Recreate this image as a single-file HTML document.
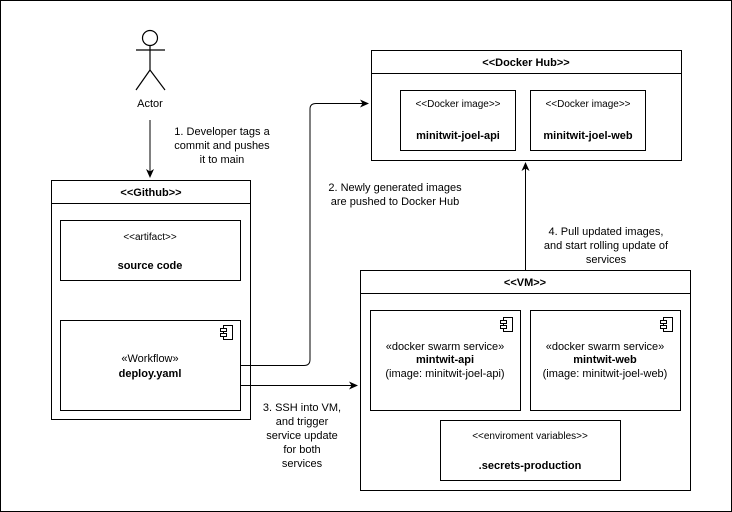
<!DOCTYPE html>
<html><head><meta charset="utf-8"><style>
html,body{margin:0;padding:0;background:#fff}
svg{display:block}
text{font-family:"Liberation Sans",Arial,sans-serif;font-size:11px;fill:#000}
.b{font-weight:bold}
.s{font-size:10px}
</style></head><body>
<svg width="732" height="512" viewBox="0 0 732 512">
<defs><marker id="a" markerWidth="10" markerHeight="10" refX="8" refY="4" orient="auto" markerUnits="userSpaceOnUse"><path d="M0,0 L9,4 L0,8 L2.5,4 Z" fill="#000"/></marker></defs>
<rect x="0.5" y="0.5" width="731" height="511" fill="none" stroke="#000"/>
<g stroke="#000" fill="none" stroke-width="1.2">
<circle cx="150" cy="38" r="7.5"/>
<line x1="150" y1="45.5" x2="150" y2="70"/>
<line x1="136" y1="50" x2="165" y2="50"/>
<line x1="150" y1="70" x2="136" y2="90"/>
<line x1="150" y1="70" x2="165" y2="90"/>
</g>
<text x="150" y="107" text-anchor="middle">Actor</text>
<g stroke="#000" fill="none" stroke-width="1">
<line x1="150" y1="120" x2="150" y2="177" marker-end="url(#a)"/>
<rect x="51.5" y="180.5" width="199" height="239"/>
<line x1="51.5" y1="203.5" x2="250.5" y2="203.5"/>
<rect x="60.5" y="220.5" width="180" height="60"/>
<rect x="60.5" y="320.5" width="180" height="90"/>
<rect x="371.5" y="50.5" width="310" height="110"/>
<line x1="371.5" y1="73.5" x2="681.5" y2="73.5"/>
<rect x="400.5" y="90.5" width="115" height="60"/>
<rect x="530.5" y="90.5" width="115" height="60"/>
<rect x="360.5" y="270.5" width="330" height="220"/>
<line x1="360.5" y1="293.5" x2="690.5" y2="293.5"/>
<rect x="370.5" y="310.5" width="150" height="100"/>
<rect x="530.5" y="310.5" width="150" height="100"/>
<rect x="440.5" y="420.5" width="180" height="60"/>
<path d="M240,365.5 H304 Q310,365.5 310,359.5 V109 Q310,103.5 316,103.5 H368" marker-end="url(#a)"/>
<line x1="240" y1="385.5" x2="357" y2="385.5" marker-end="url(#a)"/>
<line x1="525.5" y1="270" x2="525.5" y2="163" marker-end="url(#a)"/>
</g>
<g stroke="#000" fill="#fff" stroke-width="1">
<rect x="223.5" y="325.5" width="9" height="14"/><rect x="220.5" y="328.5" width="6" height="3"/><rect x="220.5" y="333.5" width="6" height="3"/>
<rect x="503.5" y="317.5" width="9" height="14"/><rect x="500.5" y="320.5" width="6" height="3"/><rect x="500.5" y="325.5" width="6" height="3"/>
<rect x="663.5" y="317.5" width="9" height="14"/><rect x="660.5" y="320.5" width="6" height="3"/><rect x="660.5" y="325.5" width="6" height="3"/>
</g>
<text x="151" y="196" text-anchor="middle" class="b">&lt;&lt;Github&gt;&gt;</text>
<text x="150" y="240" text-anchor="middle" class="s">&lt;&lt;artifact&gt;&gt;</text>
<text x="150" y="269" text-anchor="middle" class="b">source code</text>
<text x="150" y="362" text-anchor="middle">«Workflow»</text>
<text x="150" y="377" text-anchor="middle" class="b">deploy.yaml</text>
<text x="526" y="66" text-anchor="middle" class="b">&lt;&lt;Docker Hub&gt;&gt;</text>
<text x="458" y="107" text-anchor="middle" class="s">&lt;&lt;Docker image&gt;&gt;</text>
<text x="458" y="139" text-anchor="middle" class="b">minitwit-joel-api</text>
<text x="588" y="107" text-anchor="middle" class="s">&lt;&lt;Docker image&gt;&gt;</text>
<text x="588" y="139" text-anchor="middle" class="b">minitwit-joel-web</text>
<text x="525" y="286" text-anchor="middle" class="b">&lt;&lt;VM&gt;&gt;</text>
<text x="445" y="350" text-anchor="middle">«docker swarm service»</text>
<text x="445" y="363" text-anchor="middle" class="b">mintwit-api</text>
<text x="445" y="377" text-anchor="middle">(image: minitwit-joel-api)</text>
<text x="605" y="350" text-anchor="middle">«docker swarm service»</text>
<text x="605" y="363" text-anchor="middle" class="b">mintwit-web</text>
<text x="605" y="377" text-anchor="middle">(image: minitwit-joel-web)</text>
<text x="530" y="439" text-anchor="middle" class="s">&lt;&lt;enviroment variables&gt;&gt;</text>
<text x="530" y="469" text-anchor="middle" class="b">.secrets-production</text>
<text x="222" y="135" text-anchor="middle">1. Developer tags a</text>
<text x="222" y="149" text-anchor="middle">commit and pushes</text>
<text x="222" y="163" text-anchor="middle">it to main</text>
<text x="395" y="191" text-anchor="middle">2. Newly generated images</text>
<text x="395" y="205" text-anchor="middle">are pushed to Docker Hub</text>
<text x="606" y="235" text-anchor="middle">4. Pull updated images,</text>
<text x="606" y="249" text-anchor="middle">and start rolling update of</text>
<text x="606" y="263" text-anchor="middle">services</text>
<text x="302" y="411" text-anchor="middle">3. SSH into VM,</text>
<text x="302" y="425" text-anchor="middle">and trigger</text>
<text x="302" y="439" text-anchor="middle">service update</text>
<text x="302" y="453" text-anchor="middle">for both</text>
<text x="302" y="467" text-anchor="middle">services</text>
</svg>
</body></html>
